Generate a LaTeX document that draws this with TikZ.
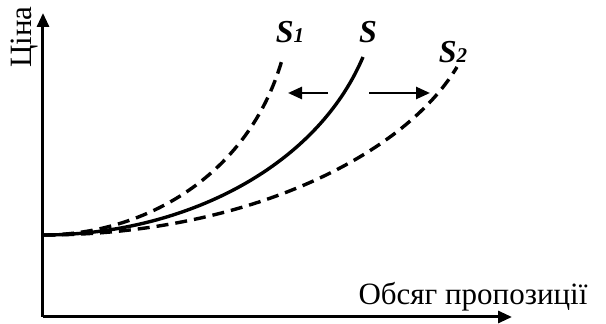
\documentclass[tikz,border=0pt]{standalone}
\usepackage{fontspec}
\setmainfont{Liberation Serif}
\usetikzlibrary{arrows.meta}
\tikzset{
    axis/.style={line width=3pt, -{Triangle[length=14pt,width=12pt]}},
    shiftarrow/.style={line width=2.6pt, -{Triangle[length=14pt,width=12pt]}},
    supply/.style={line width=3.4pt},
    shifted/.style={line width=3.4pt, dash pattern=on 12pt off 7pt},
    curvelabel/.style={font=\fontsize{32}{34}\selectfont\bfseries\itshape, anchor=base, inner sep=0pt},
    axislabel/.style={font=\fontsize{31}{33}\selectfont, inner sep=0pt},
}
\newcommand{\sub}[1]{{\fontsize{21}{22}\selectfont #1}}
\begin{document}
\begin{tikzpicture}[x=1pt,y=1pt]
    \useasboundingbox (-43,-7) rectangle (563,317);

    % Axes
    \coordinate (O) at (0,0);
    \coordinate (ytop) at (0,304);
    \coordinate (xend) at (469,0);
    \draw[axis] (O) -- (ytop);
    \draw[axis] (O) -- (xend);
    \node[axislabel, rotate=90] (price) at (-18,280) {Ціна};
    \node[axislabel, anchor=base] (qty) at (430,12) {Обсяг пропозиції};

    % Supply curves (all start at the same price)
    \coordinate (start) at (0,82);
    \draw[supply] (start) .. controls (137,82) and (272,147) .. (320,260);
    \draw[shifted] (start) .. controls (100,82) and (205,140) .. (239,257);
    \draw[shifted] (start) .. controls (200,82) and (360,160) .. (414,250);

    % Labels
    \node[curvelabel] (S1) at (247,274) {S\sub{1}};
    \node[curvelabel] (S) at (325,274) {S};
    \node[curvelabel] (S2) at (410,254) {S\sub{2}};

    % Shift arrows
    \coordinate (lfrom) at (285,224);
    \coordinate (lto) at (245,224);
    \coordinate (rfrom) at (326,224);
    \coordinate (rto) at (387,224);
    \draw[shiftarrow] (lfrom) -- (lto);
    \draw[shiftarrow] (rfrom) -- (rto);
\end{tikzpicture}
\end{document}
